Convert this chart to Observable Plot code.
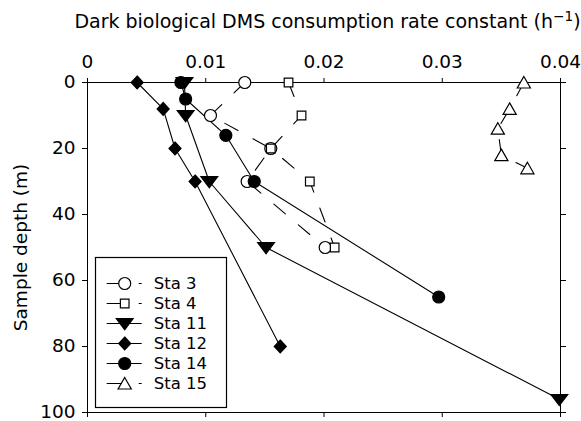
<!DOCTYPE html>
<html>
<head>
<meta charset="utf-8">
<script src="https://cdn.jsdelivr.net/npm/d3@7"></script>
<script src="https://cdn.jsdelivr.net/npm/@observablehq/plot@0.6"></script>
<style>
  body { margin: 0; background: #fff; }
  #chart { position: relative; width: 581px; height: 421px; font-family: "DejaVu Sans", sans-serif; color: #000; }
  #chart > svg { position: absolute; left: 0; top: 0; }
  #title { position: absolute; left: 74px; width: 507px; top: 10px; text-align: center;
           font-size: 19px; line-height: 22px; white-space: nowrap; }
  #title sup { font-size: 0.72em; vertical-align: 0.5em; line-height: 0; }
</style>
</head>
<body>
<div id="chart">
  <div id="title">Dark biological DMS consumption rate constant (h<sup>−1</sup>)</div>
</div>
<script>
// Station names, in legend order
const stationNames = ["Sta 3", "Sta 4", "Sta 11", "Sta 12", "Sta 14", "Sta 15"];

// Sample depth (m) and dark consumption rate constant (h^-1) per station
const sta3Depth = [0, 10, 20, 30, 50];
const sta3K = [0.0133, 0.0104, 0.0155, 0.0135, 0.0201];
const sta4Depth = [0, 10, 20, 30, 50];
const sta4K = [0.0170, 0.0181, 0.0155, 0.0188, 0.0209];
const sta11Depth = [0, 10, 30, 50, 96];
const sta11K = [0.0082, 0.0083, 0.0103, 0.0151, 0.0399];
const sta12Depth = [0, 8, 20, 30, 80];
const sta12K = [0.0042, 0.0064, 0.0074, 0.0091, 0.0163];
const sta14Depth = [0, 5, 16, 30, 65];
const sta14K = [0.0079, 0.0083, 0.0117, 0.0141, 0.0297];
const sta15Depth = [0, 8, 14, 22, 26];
const sta15K = [0.0369, 0.0357, 0.0347, 0.0350, 0.0372];

// Axis ticks and the depth axis title
const xTicks = [0, 0.01, 0.02, 0.03, 0.04];
const xTickLabels = ["0", "0.01", "0.02", "0.03", "0.04"];
const yTicks = [0, 20, 40, 60, 80, 100];
const yTitle = "Sample depth (m)";

// Marker shapes (size is the area Plot passes for the dot radius)
const radius = (size) => Math.sqrt(size / Math.PI);
const symbols = {
  circle: d3.symbolCircle,
  square: { draw(ctx, size) { const r = radius(size) * 0.72; ctx.rect(-r, -r, 2 * r, 2 * r); } },
  triangleUp: { draw(ctx, size) { const r = radius(size);
    ctx.moveTo(0, -r); ctx.lineTo(1.1 * r, 0.92 * r); ctx.lineTo(-1.1 * r, 0.92 * r); ctx.closePath(); } },
  triangleDown: { draw(ctx, size) { const r = radius(size);
    ctx.moveTo(-1.4 * r, -0.8 * r); ctx.lineTo(1.4 * r, -0.8 * r); ctx.lineTo(0, 1.05 * r); ctx.closePath(); } },
  diamond: { draw(ctx, size) { const r = radius(size);
    ctx.moveTo(0, -1.08 * r); ctx.lineTo(r, 0); ctx.lineTo(0, 1.08 * r); ctx.lineTo(-r, 0); ctx.closePath(); } }
};

const dashed = "15,17";
const series = [
  { name: stationNames[0], depth: sta3Depth, k: sta3K, symbol: symbols.circle, fill: "white", dash: dashed },
  { name: stationNames[1], depth: sta4Depth, k: sta4K, symbol: symbols.square, fill: "white", dash: dashed },
  { name: stationNames[2], depth: sta11Depth, k: sta11K, symbol: symbols.triangleDown, fill: "black", dash: null },
  { name: stationNames[3], depth: sta12Depth, k: sta12K, symbol: symbols.diamond, fill: "black", dash: null },
  { name: stationNames[4], depth: sta14Depth, k: sta14K, symbol: symbols.circle, fill: "black", dash: null },
  { name: stationNames[5], depth: sta15Depth, k: sta15K, symbol: symbols.triangleUp, fill: "white", dash: dashed }
].map(s => ({ ...s, rows: s.depth.map((d, i) => ({ depth: d, k: s.k[i] })) }));

const font = { fontFamily: "DejaVu Sans", fontSize: "18.5px", color: "black", background: "transparent", overflow: "visible" };

const chart = Plot.plot({
  width: 581,
  height: 421,
  marginTop: 82,
  marginLeft: 87,
  marginRight: 21,
  marginBottom: 9,
  style: font,
  x: { domain: [0, 0.04], label: null },
  y: { domain: [0, 100], reverse: true, label: null },
  marks: [
    Plot.frame({ stroke: "black", strokeWidth: 1 }),
    Plot.axisX({ anchor: "top", ticks: xTicks, tickSize: 5, tickPadding: 10,
      tickFormat: d => xTickLabels[xTicks.indexOf(d)], label: null, fontSize: 18.5 }),
    Plot.axisX({ anchor: "bottom", ticks: xTicks, tickSize: 5, tickFormat: () => "", label: null }),
    Plot.axisY({ anchor: "left", ticks: yTicks, tickSize: 5, tickPadding: 7, fontSize: 18.5, label: null }),
    Plot.axisY({ anchor: "right", ticks: yTicks, tickSize: 5, tickFormat: () => "", label: null }),
    // depth axis title, rotated and centred along the left edge of the frame
    Plot.text([yTitle], { frameAnchor: "left", rotate: -90, textAnchor: "middle", lineAnchor: "top", dx: -74,
      text: d => d, fill: "black", fontSize: 18.5 }),
    ...series.map(s => Plot.line(s.rows, {
      x: "k", y: "depth", stroke: "black", strokeWidth: 1.1, strokeDasharray: s.dash
    })),
    ...series.map(s => Plot.dot(s.rows, {
      x: "k", y: "depth", r: 6, symbol: s.symbol, fill: s.fill, stroke: "black", strokeWidth: 1.2
    }))
  ]
});
document.getElementById("chart").appendChild(chart);

// Legend box: one row per station with its line sample, marker and name
const legend = Plot.plot({
  width: 133,
  height: 152,
  margin: 1,
  style: { ...font, fontSize: "16.5px" },
  x: { domain: [0, 1], range: [12.7, 47.7], axis: null },
  y: { type: "point", domain: stationNames, range: [17.3, 137.3], axis: null },
  marks: [
    Plot.frame({ fill: "white", stroke: "black", strokeWidth: 1.2 }),
    ...series.map(s => Plot.ruleY([s.name], {
      y: d => d, x1: 0, x2: 1, stroke: "black", strokeWidth: 1.1, strokeDasharray: s.dash
    })),
    ...series.map(s => Plot.dot([s.name], {
      x: 0.5, y: d => d, r: 6, symbol: s.symbol, fill: s.fill, stroke: "black", strokeWidth: 1.2
    })),
    Plot.text(stationNames, { x: 1, y: d => d, text: d => d, textAnchor: "start", dx: 11.6, fill: "black" })
  ]
});
legend.style.position = "absolute";
legend.style.left = "94px";
legend.style.top = "256px";
document.getElementById("chart").appendChild(legend);
</script>
</body>
</html>
